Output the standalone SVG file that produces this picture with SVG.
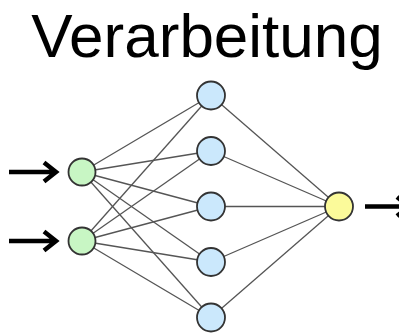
<svg xmlns="http://www.w3.org/2000/svg" width="399" height="335" viewBox="0 0 399 335">
  <style>
    .title { font-family: "Liberation Sans", Arial, sans-serif; font-size: 62px; fill: #000; }
    .edge { stroke: #555; stroke-width: 1.3; fill: none; }
    .node { stroke: #333; stroke-width: 1.8; }
    .in { fill: #c8f6c4; }
    .hid { fill: #cbe8fc; }
    .out { fill: #fbfa9a; }
    .arrow { stroke: #000; stroke-width: 4.5; fill: none; }
  </style>
  <rect width="399" height="335" fill="#fff"/>
  <text class="title" x="207" y="56.5" text-anchor="middle">Verarbeitung</text>

  <!-- input and output arrows -->
  <g id="io-arrows">
    <path class="arrow" d="M9 172H55M44 162.5L56 172L44 181.5"/>
    <path class="arrow" d="M9 241H55M44 231.5L56 241L44 250.5"/>
    <path class="arrow" d="M365 206.5H410M397 197L409 206.5L397 216"/>
  </g>

  <!-- connections between layers -->
  <g id="connectors" class="edge">
    <line x1="82" y1="172" x2="211" y2="95.5"/>
    <line x1="82" y1="172" x2="211" y2="151"/>
    <line x1="82" y1="172" x2="211" y2="206.5"/>
    <line x1="82" y1="172" x2="211" y2="262"/>
    <line x1="82" y1="172" x2="211" y2="317.5"/>
    <line x1="82" y1="241" x2="211" y2="95.5"/>
    <line x1="82" y1="241" x2="211" y2="151"/>
    <line x1="82" y1="241" x2="211" y2="206.5"/>
    <line x1="82" y1="241" x2="211" y2="262"/>
    <line x1="82" y1="241" x2="211" y2="317.5"/>
    <line x1="211" y1="95.5" x2="339" y2="206.5"/>
    <line x1="211" y1="151" x2="339" y2="206.5"/>
    <line x1="211" y1="206.5" x2="339" y2="206.5"/>
    <line x1="211" y1="262" x2="339" y2="206.5"/>
    <line x1="211" y1="317.5" x2="339" y2="206.5"/>
  </g>

  <g id="in1"><circle class="node in" cx="82" cy="172" r="13.5"/></g>
  <g id="in2"><circle class="node in" cx="82" cy="241" r="13.5"/></g>

  <g id="h1"><circle class="node hid" cx="211" cy="95.5" r="14"/></g>
  <g id="h2"><circle class="node hid" cx="211" cy="151" r="14"/></g>
  <g id="h3"><circle class="node hid" cx="211" cy="206.5" r="14"/></g>
  <g id="h4"><circle class="node hid" cx="211" cy="262" r="14"/></g>
  <g id="h5"><circle class="node hid" cx="211" cy="317.5" r="14"/></g>

  <g id="out"><circle class="node out" cx="339" cy="206.5" r="14"/></g>
</svg>
